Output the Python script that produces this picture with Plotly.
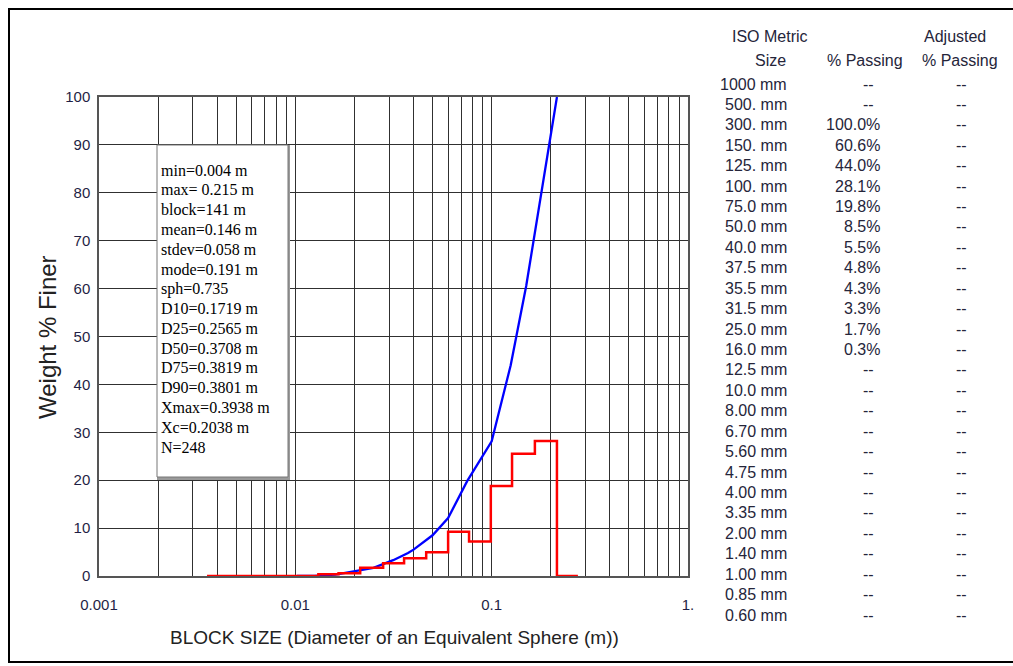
import plotly.graph_objects as go

# Cumulative passing curve (block size in m, % finer)
cum_size = [0.0102, 0.0125, 0.016, 0.025, 0.0315, 0.0355, 0.0375, 0.04,
            0.05, 0.06, 0.075, 0.1, 0.125, 0.15, 0.215]
cum_pct = [0, 0, 0.3, 1.7, 3.3, 4.3, 4.8, 5.5, 8.5, 12.1, 19.8, 28.1, 44.0, 60.6, 100]

# Frequency histogram: bin edges (m) and % in each bin
bin_edges = [0.00355, 0.0131, 0.0166, 0.0214, 0.028, 0.0358, 0.0464, 0.060,
             0.0767, 0.099, 0.127, 0.166, 0.215, 0.275]
bin_pct = [0, 0.35, 0.6, 1.7, 2.65, 3.7, 4.95, 9.25, 7.2, 18.8, 25.5, 28.2, 0]

# Summary statistics box
stats_lines = ["min=0.004 m", "max= 0.215 m", "block=141 m", "mean=0.146 m",
               "stdev=0.058 m", "mode=0.191 m", "sph=0.735", "D10=0.1719 m",
               "D25=0.2565 m", "D50=0.3708 m", "D75=0.3819 m", "D90=0.3801 m",
               "Xmax=0.3938 m", "Xc=0.2038 m", "N=248"]

# ISO sieve table
iso_sizes = ["1000 mm", "500. mm", "300. mm", "150. mm", "125. mm", "100. mm",
             "75.0 mm", "50.0 mm", "40.0 mm", "37.5 mm", "35.5 mm", "31.5 mm",
             "25.0 mm", "16.0 mm", "12.5 mm", "10.0 mm", "8.00 mm", "6.70 mm",
             "5.60 mm", "4.75 mm", "4.00 mm", "3.35 mm", "2.00 mm", "1.40 mm",
             "1.00 mm", "0.85 mm", "0.60 mm"]
iso_passing = ["--", "--", "100.0%", "60.6%", "44.0%", "28.1%", "19.8%", "8.5%",
               "5.5%", "4.8%", "4.3%", "3.3%", "1.7%", "0.3%", "--", "--", "--",
               "--", "--", "--", "--", "--", "--", "--", "--", "--", "--"]
iso_adjusted = ["--"] * len(iso_sizes)

x_ticks = [0.001, 0.01, 0.1, 1]
x_tick_text = ["0.001", "0.01", "0.1", "1."]

W, H = 1013, 666
L, R, T, B = 99, 325, 97, 90
PW, PH = W - L - R, H - T - B


def px(x):
    return (x - L) / PW


def py(y):
    return (H - B - y) / PH


grid_vals, grid_text = [], []
for dec in x_ticks[:-1]:
    for k in range(1, 10):
        v = round(dec * k, 6)
        grid_vals.append(v)
        grid_text.append(x_tick_text[x_ticks.index(dec)] if k == 1 else "")
grid_vals.append(1)
grid_text.append("1.")

fig = go.Figure()
fig.add_trace(go.Scatter(x=cum_size, y=cum_pct, mode="lines",
                         line=dict(color="#0000ff", width=2.3), showlegend=False))
fig.add_trace(go.Scatter(x=bin_edges, y=bin_pct + [0], mode="lines",
                         line=dict(color="#ff0000", width=2.5, shape="hv"),
                         showlegend=False))

axis_font = dict(family="Liberation Sans, Arial, sans-serif", size=15, color="#1f1f45")
fig.update_xaxes(type="log", range=[-3, 0], tickvals=grid_vals, ticktext=grid_text,
                 showgrid=True, gridcolor="#303030", gridwidth=1.3,
                 showline=True, linecolor="#555555", linewidth=1.5, mirror=True,
                 ticks="", tickfont=axis_font, ticklabelstandoff=14, zeroline=False)
fig.update_yaxes(range=[0, 100], dtick=10, showgrid=True, gridcolor="#303030",
                 gridwidth=1.3, showline=True, linecolor="#555555", linewidth=1.5,
                 mirror=True, ticks="", tickfont=axis_font, ticklabelstandoff=4,
                 zeroline=False)

shapes = [
    # outer frame
    dict(type="rect", xref="paper", yref="paper", x0=px(9), x1=px(1030),
         y0=py(662), y1=py(9), line=dict(color="#000000", width=2),
         layer="below"),
    # statistics box shadow
    dict(type="rect", xref="paper", yref="paper", x0=px(157), x1=px(290),
         y0=py(480), y1=py(145), fillcolor="#9a9a9a", line=dict(width=0),
         layer="above"),
    # statistics box
    dict(type="rect", xref="paper", yref="paper", x0=px(157), x1=px(288),
         y0=py(477), y1=py(145), fillcolor="#ffffff",
         line=dict(color="#777777", width=1), layer="above"),
]

annotations = []
for i, s in enumerate(stats_lines):
    annotations.append(dict(xref="paper", yref="paper", x=px(159), y=py(170 + i * 19.8),
                            text=s, showarrow=False, xanchor="left", yanchor="middle",
                            font=dict(family="Liberation Serif, Times New Roman, serif",
                                      size=16, color="#000000")))

tfont = dict(family="Liberation Sans, Arial, sans-serif", size=16, color="#25253a")
headers = [("ISO Metric", 770, 37), ("Size", 770, 61), ("% Passing", 865, 61),
           ("Adjusted", 955, 37), ("% Passing", 960, 61)]
for text, x, y in headers:
    annotations.append(dict(xref="paper", yref="paper", x=px(x), y=py(y), text=text,
                            showarrow=False, xanchor="center", yanchor="middle",
                            font=tfont))

row_gap = (615 - 84) / (len(iso_sizes) - 1)
for i, (s, p, a) in enumerate(zip(iso_sizes, iso_passing, iso_adjusted)):
    y = py(84 + i * row_gap)
    annotations.append(dict(xref="paper", yref="paper", x=px(789), y=y, text=s,
                            showarrow=False, xanchor="right", yanchor="middle",
                            font=tfont))
    if p == "--":
        annotations.append(dict(xref="paper", yref="paper", x=px(868), y=y, text=p,
                                showarrow=False, xanchor="center", yanchor="middle",
                                font=tfont))
    else:
        annotations.append(dict(xref="paper", yref="paper", x=px(882), y=y, text=p,
                                showarrow=False, xanchor="right", yanchor="middle",
                                font=tfont))
    annotations.append(dict(xref="paper", yref="paper", x=px(961), y=y, text=a,
                            showarrow=False, xanchor="center", yanchor="middle",
                            font=tfont))

annotations.append(dict(xref="paper", yref="paper", x=px(47), y=py(337),
                        text="Weight % Finer", textangle=-90, showarrow=False,
                        xanchor="center", yanchor="middle",
                        font=dict(family="Liberation Sans, Arial, sans-serif",
                                  size=24, color="#222222")))
annotations.append(dict(xref="paper", yref="paper", x=px(394), y=py(637),
                        text="BLOCK SIZE (Diameter of an Equivalent Sphere (m))",
                        showarrow=False, xanchor="center", yanchor="middle",
                        font=dict(family="Liberation Sans, Arial, sans-serif",
                                  size=19, color="#222222")))

fig.update_layout(width=W, height=H, margin=dict(l=L, r=R, t=T, b=B),
                  paper_bgcolor="#ffffff", plot_bgcolor="#ffffff",
                  shapes=shapes, annotations=annotations, showlegend=False)

fig.write_html("out.html")
